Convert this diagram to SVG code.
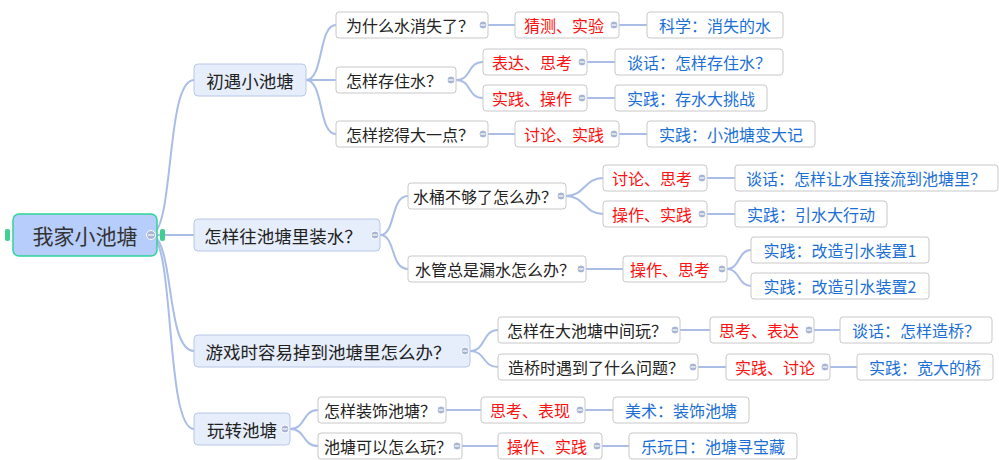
<svg xmlns="http://www.w3.org/2000/svg" width="999" height="460" viewBox="0 0 999 460">
<style>
text{font-family:"Noto Sans CJK SC","Liberation Sans",sans-serif;dominant-baseline:central;text-anchor:middle}
.l1 rect{fill:#e6edfb;stroke:#b8c8e8;stroke-width:1}
.l1 text{font-size:17.5px;fill:#222}
.n rect{fill:#fff;stroke:#c8c8c8;stroke-width:1}
.n text{font-size:16px;fill:#222}
.r text{fill:#ff1010}
.b text{fill:#1a6fd6}
#conn path{fill:none;stroke:#a9bde6;stroke-width:2}
.c{fill:#a8b4d4;stroke:#fff;stroke-width:1}
.m{stroke:#fff;stroke-width:1.2}
</style>
<rect width="999" height="460" fill="#fff"/>
<g id="conn">
<path d="M150,235 C175,235 165,80 194,80"/>
<path d="M150,235 L194,235"/>
<path d="M150,235 C175,235 165,351 194,351"/>
<path d="M150,235 C175,235 165,429 194,429"/>
<path d="M306,80 C324,80 318,25 336,25"/><path d="M306,80 L336,80"/><path d="M306,80 C324,80 318,134 336,134"/>
<path d="M380,235 C396,235 390,196 408,196"/><path d="M380,235 C396,235 390,269 408,269"/>
<path d="M470,351 C486,351 482,330 498,330"/><path d="M470,351 C486,351 482,367 498,367"/>
<path d="M290,429 C306,429 302,410 318,410"/><path d="M290,429 C306,429 302,446 318,446"/>
<path d="M488,25 L515,25"/><path d="M619,25 L647,25"/>
<path d="M456,80 C472,80 467,62 483,62"/><path d="M456,80 C472,80 467,98 483,98"/>
<path d="M587,62 L615,62"/><path d="M587,98 L615,98"/>
<path d="M488,134 L515,134"/><path d="M619,134 L647,134"/>
<path d="M566,196 C585,196 584,178 603,178"/><path d="M566,196 C585,196 584,214 603,214"/>
<path d="M707,178 L735,178"/><path d="M707,214 L735,214"/>
<path d="M586,269 L623,269"/>
<path d="M727,269 C740,269 738,250 751,250"/><path d="M727,269 C740,269 738,286 751,286"/>
<path d="M680,330 L710,330"/><path d="M814,330 L840,330"/>
<path d="M698,367 L726,367"/><path d="M830,367 L857,367"/>
<path d="M446,410 L481,410"/><path d="M585,410 L613,410"/>
<path d="M462,446 L498,446"/><path d="M602,446 L629,446"/>
</g>
<g id="root"><rect x="13" y="214" width="144" height="42" rx="6" fill="#b7cdfb" stroke="#2fd39a" stroke-width="1.5"/><text x="85" y="235" font-size="21" fill="#333">我家小池塘</text>
<rect x="5" y="229" width="5" height="12" rx="2" fill="#3fcf90"/><rect x="160" y="229" width="5" height="12" rx="2" fill="#3fcf90"/><circle class="c" cx="151" cy="235" r="4.5"/><line class="m" x1="148" y1="235" x2="154" y2="235"/></g>
<g id="a1" class="l1"><rect x="194" y="64" width="112" height="32" rx="4"/><text x="250" y="80">初遇小池塘</text></g>
<g id="a2" class="l1"><rect x="194" y="219" width="186" height="32" rx="4"/><text x="283" y="235">怎样往池塘里装水？</text></g>
<g id="a3" class="l1"><rect x="194" y="335" width="276" height="32" rx="4"/><text x="328" y="351">游戏时容易掉到池塘里怎么办？</text></g>
<g id="a4" class="l1"><rect x="194" y="413" width="96" height="32" rx="4"/><text x="242" y="429">玩转池塘</text></g>
<g id="b1" class="n"><rect x="336" y="12" width="152" height="26" rx="3"/><text x="410" y="25">为什么水消失了？</text></g>
<g id="b2" class="n"><rect x="336" y="67" width="120" height="26" rx="3"/><text x="394" y="80">怎样存住水？</text></g>
<g id="b3" class="n"><rect x="336" y="121" width="152" height="26" rx="3"/><text x="410" y="134">怎样挖得大一点？</text></g>
<g id="b4" class="n"><rect x="408" y="183" width="158" height="26" rx="3"/><text x="485" y="196">水桶不够了怎么办？</text></g>
<g id="b5" class="n"><rect x="408" y="256" width="178" height="26" rx="3"/><text x="495" y="269">水管总是漏水怎么办？</text></g>
<g id="b6" class="n"><rect x="498" y="317" width="182" height="26" rx="3"/><text x="587" y="330">怎样在大池塘中间玩？</text></g>
<g id="b7" class="n"><rect x="498" y="354" width="200" height="26" rx="3"/><text x="596" y="367">造桥时遇到了什么问题？</text></g>
<g id="b8" class="n"><rect x="318" y="397" width="128" height="26" rx="3"/><text x="380" y="410">怎样装饰池塘？</text></g>
<g id="b9" class="n"><rect x="318" y="433" width="144" height="26" rx="3"/><text x="388" y="446">池塘可以怎么玩？</text></g>
<g id="c1" class="n r"><rect x="515" y="12" width="104" height="26" rx="3"/><text x="564" y="25">猜测、实验</text></g>
<g id="c2" class="n r"><rect x="483" y="49" width="104" height="26" rx="3"/><text x="532" y="62">表达、思考</text></g>
<g id="c3" class="n r"><rect x="483" y="85" width="104" height="26" rx="3"/><text x="532" y="98">实践、操作</text></g>
<g id="c4" class="n r"><rect x="515" y="121" width="104" height="26" rx="3"/><text x="564" y="134">讨论、实践</text></g>
<g id="c5" class="n r"><rect x="603" y="165" width="104" height="26" rx="3"/><text x="652" y="178">讨论、思考</text></g>
<g id="c6" class="n r"><rect x="603" y="201" width="104" height="26" rx="3"/><text x="652" y="214">操作、实践</text></g>
<g id="c7" class="n r"><rect x="623" y="256" width="104" height="26" rx="3"/><text x="670" y="269">操作、思考</text></g>
<g id="c8" class="n r"><rect x="710" y="317" width="104" height="26" rx="3"/><text x="759" y="330">思考、表达</text></g>
<g id="c9" class="n r"><rect x="726" y="354" width="104" height="26" rx="3"/><text x="775" y="367">实践、讨论</text></g>
<g id="c10" class="n r"><rect x="481" y="397" width="104" height="26" rx="3"/><text x="530" y="410">思考、表现</text></g>
<g id="c11" class="n r"><rect x="498" y="433" width="104" height="26" rx="3"/><text x="547" y="446">操作、实践</text></g>
<g id="d1" class="n b"><rect x="647" y="12" width="136" height="26" rx="3"/><text x="715" y="25">科学：消失的水</text></g>
<g id="d2" class="n b"><rect x="615" y="49" width="168" height="26" rx="3"/><text x="699" y="62">谈话：怎样存住水？</text></g>
<g id="d3" class="n b"><rect x="615" y="85" width="152" height="26" rx="3"/><text x="691" y="98">实践：存水大挑战</text></g>
<g id="d4" class="n b"><rect x="647" y="121" width="168" height="26" rx="3"/><text x="731" y="134">实践：小池塘变大记</text></g>
<g id="d5" class="n b"><rect x="735" y="165" width="263" height="26" rx="3"/><text x="866" y="178">谈话：怎样让水直接流到池塘里？</text></g>
<g id="d6" class="n b"><rect x="735" y="201" width="152" height="26" rx="3"/><text x="811" y="214">实践：引水大行动</text></g>
<g id="d7" class="n b"><rect x="751" y="237" width="178" height="26" rx="3"/><text x="840" y="250">实践：改造引水装置1</text></g>
<g id="d8" class="n b"><rect x="751" y="273" width="178" height="26" rx="3"/><text x="840" y="286">实践：改造引水装置2</text></g>
<g id="d9" class="n b"><rect x="840" y="317" width="152" height="26" rx="3"/><text x="916" y="330">谈话：怎样造桥？</text></g>
<g id="d10" class="n b"><rect x="857" y="354" width="136" height="26" rx="3"/><text x="925" y="367">实践：宽大的桥</text></g>
<g id="d11" class="n b"><rect x="613" y="397" width="136" height="26" rx="3"/><text x="681" y="410">美术：装饰池塘</text></g>
<g id="d12" class="n b"><rect x="629" y="433" width="168" height="26" rx="3"/><text x="713" y="446">乐玩日：池塘寻宝藏</text></g>
<g id="toggles">
<g><circle class="c" cx="375" cy="235" r="4"/><line class="m" x1="372.5" y1="235" x2="377.5" y2="235"/></g>
<g><circle class="c" cx="465" cy="351" r="4"/><line class="m" x1="462.5" y1="351" x2="467.5" y2="351"/></g>
<g><circle class="c" cx="285" cy="429" r="4"/><line class="m" x1="282.5" y1="429" x2="287.5" y2="429"/></g>
<g><circle class="c" cx="483" cy="25" r="4"/><line class="m" x1="480.5" y1="25" x2="485.5" y2="25"/></g>
<g><circle class="c" cx="451" cy="80" r="4"/><line class="m" x1="448.5" y1="80" x2="453.5" y2="80"/></g>
<g><circle class="c" cx="483" cy="134" r="4"/><line class="m" x1="480.5" y1="134" x2="485.5" y2="134"/></g>
<g><circle class="c" cx="561" cy="196" r="4"/><line class="m" x1="558.5" y1="196" x2="563.5" y2="196"/></g>
<g><circle class="c" cx="581" cy="269" r="4"/><line class="m" x1="578.5" y1="269" x2="583.5" y2="269"/></g>
<g><circle class="c" cx="675" cy="330" r="4"/><line class="m" x1="672.5" y1="330" x2="677.5" y2="330"/></g>
<g><circle class="c" cx="693" cy="367" r="4"/><line class="m" x1="690.5" y1="367" x2="695.5" y2="367"/></g>
<g><circle class="c" cx="441" cy="410" r="4"/><line class="m" x1="438.5" y1="410" x2="443.5" y2="410"/></g>
<g><circle class="c" cx="457" cy="446" r="4"/><line class="m" x1="454.5" y1="446" x2="459.5" y2="446"/></g>
<g><circle class="c" cx="614" cy="25" r="4"/><line class="m" x1="611.5" y1="25" x2="616.5" y2="25"/></g>
<g><circle class="c" cx="582" cy="62" r="4"/><line class="m" x1="579.5" y1="62" x2="584.5" y2="62"/></g>
<g><circle class="c" cx="582" cy="98" r="4"/><line class="m" x1="579.5" y1="98" x2="584.5" y2="98"/></g>
<g><circle class="c" cx="614" cy="134" r="4"/><line class="m" x1="611.5" y1="134" x2="616.5" y2="134"/></g>
<g><circle class="c" cx="702" cy="178" r="4"/><line class="m" x1="699.5" y1="178" x2="704.5" y2="178"/></g>
<g><circle class="c" cx="702" cy="214" r="4"/><line class="m" x1="699.5" y1="214" x2="704.5" y2="214"/></g>
<g><circle class="c" cx="722" cy="269" r="4"/><line class="m" x1="719.5" y1="269" x2="724.5" y2="269"/></g>
<g><circle class="c" cx="809" cy="330" r="4"/><line class="m" x1="806.5" y1="330" x2="811.5" y2="330"/></g>
<g><circle class="c" cx="825" cy="367" r="4"/><line class="m" x1="822.5" y1="367" x2="827.5" y2="367"/></g>
<g><circle class="c" cx="580" cy="410" r="4"/><line class="m" x1="577.5" y1="410" x2="582.5" y2="410"/></g>
<g><circle class="c" cx="597" cy="446" r="4"/><line class="m" x1="594.5" y1="446" x2="599.5" y2="446"/></g>
</g>
</svg>
